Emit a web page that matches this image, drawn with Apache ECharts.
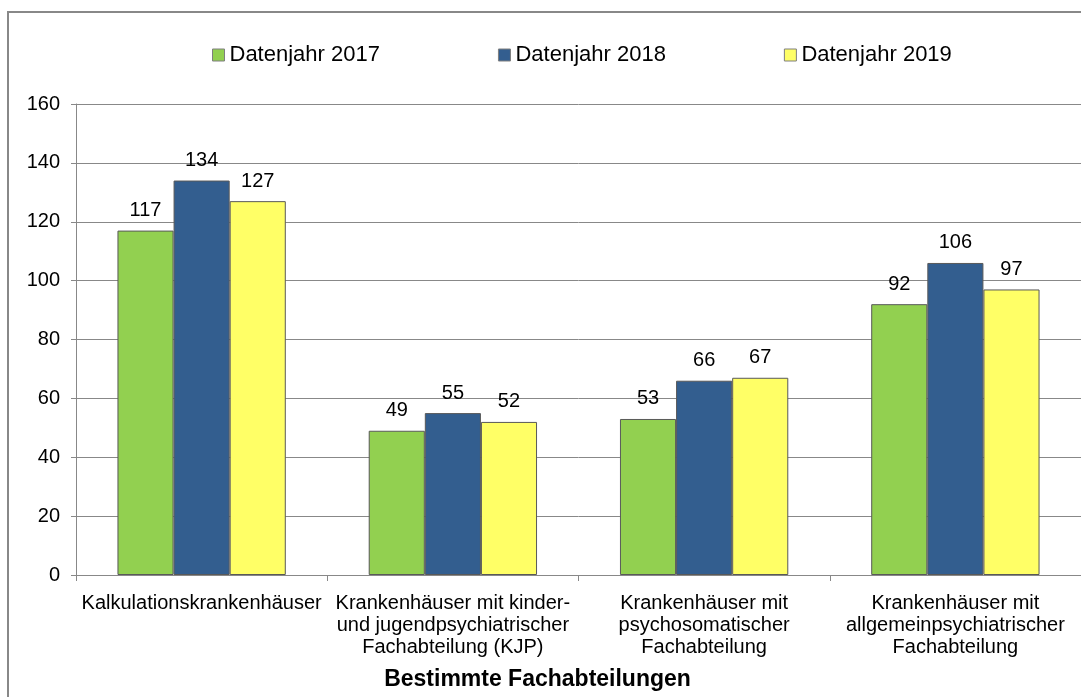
<!DOCTYPE html>
<html>
<head>
<meta charset="utf-8">
<script src="https://cdn.jsdelivr.net/npm/echarts@6/dist/echarts.min.js"></script>
<style>
  html, body { margin: 0; padding: 0; background: #fff; }
  #chart { width: 1081px; height: 697px; }
</style>
</head>
<body>
<div id="chart"></div>
<script>
var categories = [
  'Kalkulationskrankenhäuser',
  'Krankenhäuser mit kinder-\nund jugendpsychiatrischer\nFachabteilung (KJP)',
  'Krankenhäuser mit\npsychosomatischer\nFachabteilung',
  'Krankenhäuser mit\nallgemeinpsychiatrischer\nFachabteilung'
];
var seriesNames = ['Datenjahr 2017', 'Datenjahr 2018', 'Datenjahr 2019'];
var values2017 = [117, 49, 53, 92];
var values2018 = [134, 55, 66, 106];
var values2019 = [127, 52, 67, 97];
var colors = ['#92d050', '#335e8f', '#ffff66'];

var font = 'Liberation Sans, Arial, sans-serif';

function makeSeries(name, data, color) {
  return {
    name: name,
    type: 'bar',
    data: data,
    barGap: 0,
    barCategoryGap: '33%',
    itemStyle: { color: color, borderColor: '#595959', borderWidth: 1 },
    label: {
      show: true,
      position: 'top',
      distance: 10,
      color: '#000',
      fontFamily: font,
      fontSize: 20
    }
  };
}

var myChart = echarts.init(document.getElementById('chart'));
myChart.setOption({
  animation: false,
  color: colors,
  graphic: [{
    type: 'rect',
    shape: { x: 8, y: 12, width: 1200, height: 800 },
    style: { fill: 'none', stroke: '#888', lineWidth: 2 },
    silent: true
  }],
  legend: {
    top: 39,
    left: 207,
    icon: 'rect',
    itemWidth: 12,
    itemHeight: 12,
    itemGap: 118,
    itemStyle: { borderColor: '#7f7f7f', borderWidth: 1 },
    textStyle: { fontFamily: font, fontSize: 22, color: '#000' },
    data: seriesNames
  },
  grid: { left: 76, right: 0, top: 104, bottom: 122, outerBoundsMode: 'none' },
  xAxis: {
    type: 'category',
    data: categories,
    name: 'Bestimmte Fachabteilungen',
    nameLocation: 'middle',
    nameGap: 93,
    nameTextStyle: {
      fontFamily: font, fontSize: 23, fontWeight: 'bold', color: '#000',
      padding: [0, 82, 0, 0]
    },
    axisLine: { lineStyle: { color: '#888' } },
    axisTick: { show: true, length: 6, interval: 0, lineStyle: { color: '#888' } },
    axisLabel: {
      interval: 0,
      margin: 17,
      color: '#000',
      fontFamily: font,
      fontSize: 20,
      lineHeight: 22
    }
  },
  yAxis: {
    type: 'value',
    min: 0,
    max: 160,
    interval: 20,
    axisLine: { show: true, lineStyle: { color: '#888' } },
    axisTick: { show: true, length: 5, lineStyle: { color: '#888' } },
    splitLine: { lineStyle: { color: '#888' } },
    axisLabel: { margin: 16, color: '#000', fontFamily: font, fontSize: 20 }
  },
  series: [
    makeSeries(seriesNames[0], values2017, colors[0]),
    makeSeries(seriesNames[1], values2018, colors[1]),
    makeSeries(seriesNames[2], values2019, colors[2])
  ]
});
</script>
</body>
</html>
